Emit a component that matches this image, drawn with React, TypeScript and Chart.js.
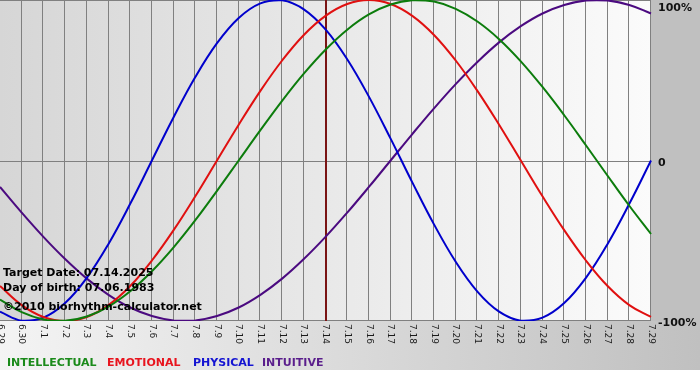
import React, { useEffect, useRef } from "react";
import { Chart, registerables } from "chart.js";

Chart.register(...registerables);

const dayLabels = [
  "6.29", "6.30", "7.1", "7.2", "7.3", "7.4", "7.5", "7.6", "7.7", "7.8", "7.9",
  "7.10", "7.11", "7.12", "7.13", "7.14", "7.15", "7.16", "7.17", "7.18", "7.19",
  "7.20", "7.21", "7.22", "7.23", "7.24", "7.25", "7.26", "7.27", "7.28", "7.29",
];

const intellectual = [
  -0.866, -0.945, -0.99, -0.999, -0.972, -0.91, -0.815, -0.69, -0.541, -0.372, -0.189,
  0, 0.189, 0.372, 0.541, 0.69, 0.815, 0.91, 0.972, 0.999, 0.99,
  0.945, 0.866, 0.756, 0.618, 0.458, 0.282, 0.095, -0.095, -0.282, -0.458,
];

const emotional = [
  -0.782, -0.901, -0.975, -1, -0.975, -0.901, -0.782, -0.623, -0.434, -0.223, 0,
  0.223, 0.434, 0.623, 0.782, 0.901, 0.975, 1, 0.975, 0.901, 0.782,
  0.623, 0.434, 0.223, 0, -0.223, -0.434, -0.623, -0.782, -0.901, -0.975,
];

const physical = [
  -0.942, -0.998, -0.979, -0.888, -0.731, -0.52, -0.27, 0, 0.27, 0.52, 0.731,
  0.888, 0.979, 0.998, 0.942, 0.817, 0.631, 0.398, 0.136, -0.136, -0.398,
  -0.631, -0.817, -0.942, -0.998, -0.979, -0.888, -0.731, -0.52, -0.27, 0,
];

const intuitive = [
  -0.165, -0.325, -0.476, -0.614, -0.736, -0.837, -0.916, -0.969, -0.997, -0.997, -0.969,
  -0.916, -0.837, -0.736, -0.614, -0.476, -0.325, -0.165, 0, 0.165, 0.325,
  0.476, 0.614, 0.736, 0.837, 0.916, 0.969, 0.997, 0.997, 0.969, 0.916,
];

const seriesNames = ["INTELLECTUAL", "EMOTIONAL", "PHYSICAL", "INTUITIVE"];
const seriesColors = ["#0c7c0c", "#e01010", "#0000cc", "#4b0a80"];
const legendColors = ["#1a8a1a", "#e8141e", "#1414d2", "#5a1e8c"];

const yTickValues = [1, 0, -1];
const yTickLabels = ["100%", "0", "-100%"];

const targetDayIndex = 15;
const infoLines = [
  "Target Date: 07.14.2025",
  "Day of birth: 07.06.1983",
  "\u00a92010 biorhythm-calculator.net",
];

export default function App() {
  const ref = useRef<HTMLCanvasElement>(null);

  useEffect(() => {
    const canvas = ref.current;
    if (!canvas) return;

    const decor = {
      id: "decor",
      beforeDraw(chart: any) {
        const { ctx, chartArea: a, width, height } = chart;
        ctx.save();
        ctx.fillStyle = "#ffffff";
        ctx.fillRect(0, 0, width, height);
        // bottom band
        const gb = ctx.createLinearGradient(0, 0, width, 0);
        gb.addColorStop(0, "#f4f4f4");
        gb.addColorStop(1, "#c0c0c0");
        ctx.fillStyle = gb;
        ctx.fillRect(0, a.bottom, width, 370 - a.bottom);
        // right panel
        ctx.fillStyle = "#c0c0c0";
        ctx.fillRect(a.right, 0, width - a.right, a.bottom);
        // plot area
        const gp = ctx.createLinearGradient(a.left, 0, a.right, 0);
        gp.addColorStop(0, "#d6d6d6");
        gp.addColorStop(1, "#fbfbfb");
        ctx.fillStyle = gp;
        ctx.fillRect(a.left, a.top, a.right - a.left, a.bottom - a.top);
        ctx.restore();
      },
      beforeDatasetsDraw(chart: any) {
        const { ctx, chartArea: a, scales } = chart;
        const xs = scales.x;
        const ys = scales.y;
        ctx.save();
        ctx.strokeStyle = "#808080";
        ctx.lineWidth = 1;
        ctx.beginPath();
        for (let i = 0; i < dayLabels.length; i++) {
          const x = Math.round(xs.getPixelForValue(i)) - 0.5;
          ctx.moveTo(x, a.top);
          ctx.lineTo(x, a.bottom);
        }
        for (const v of yTickValues) {
          const y = Math.round(ys.getPixelForValue(v)) + 0.5;
          ctx.moveTo(a.left, Math.min(Math.max(y, 0.5), a.bottom - 0.5));
          ctx.lineTo(a.right, Math.min(Math.max(y, 0.5), a.bottom - 0.5));
        }
        ctx.stroke();
        // target date line
        const tx = Math.round(xs.getPixelForValue(targetDayIndex));
        ctx.fillStyle = "#7a1414";
        ctx.fillRect(tx - 1, a.top, 2, a.bottom - a.top);
        ctx.restore();
      },
      afterDatasetsDraw(chart: any) {
        const { ctx } = chart;
        ctx.save();
        ctx.fillStyle = "#000000";
        ctx.font = "bold 11px 'DejaVu Sans'";
        ctx.textAlign = "left";
        ctx.textBaseline = "alphabetic";
        const baselines = [276, 291, 310];
        infoLines.forEach((t, i) => ctx.fillText(t, 3, baselines[i]));
        ctx.restore();
      },
      afterDraw(chart: any) {
        const { ctx, chartArea: a, scales } = chart;
        const xs = scales.x;
        const ys = scales.y;
        ctx.save();
        // x tick labels, rotated clockwise
        ctx.fillStyle = "#1a1a1a";
        ctx.font = "9px 'DejaVu Sans'";
        ctx.textAlign = "left";
        ctx.textBaseline = "middle";
        dayLabels.forEach((lab, i) => {
          const x = xs.getPixelForValue(i);
          ctx.save();
          ctx.translate(x, a.bottom + 3);
          ctx.rotate(Math.PI / 2);
          ctx.fillText(lab, 0, 0);
          ctx.restore();
        });
        // y labels on right
        ctx.fillStyle = "#111111";
        ctx.font = "bold 11px 'DejaVu Sans'";
        ctx.textBaseline = "alphabetic";
        yTickValues.forEach((v, i) => {
          const y = ys.getPixelForValue(v);
          const base = v === 1 ? y + 11 : y + 5;
          ctx.fillText(yTickLabels[i], a.right + 7, base);
        });
        // legend
        const legendX = [7, 107, 193, 262];
        ctx.font = "bold 11px 'DejaVu Sans'";
        seriesNames.forEach((n, i) => {
          ctx.fillStyle = legendColors[i];
          ctx.fillText(n, legendX[i], 366);
        });
        ctx.restore();
      },
    };

    const mk = (label: string, data: number[], color: string) => ({
      label,
      data,
      borderColor: color,
      backgroundColor: color,
      borderWidth: 2,
      pointRadius: 0,
      tension: 0.4,
      fill: false,
    });

    const chart = new Chart(canvas, {
      type: "line",
      data: {
        labels: dayLabels,
        datasets: [
          mk(seriesNames[0], intellectual, seriesColors[0]),
          mk(seriesNames[1], emotional, seriesColors[1]),
          mk(seriesNames[2], physical, seriesColors[2]),
          mk(seriesNames[3], intuitive, seriesColors[3]),
        ],
      },
      options: {
        responsive: false,
        animation: false,
        devicePixelRatio: 1,
        layout: { padding: { left: 0, top: 0, right: 49, bottom: 59 } },
        plugins: { legend: { display: false }, tooltip: { enabled: false } },
        scales: {
          x: { display: false, offset: false },
          y: { display: false, min: -1, max: 1 },
        },
      },
      plugins: [decor],
    });

    return () => chart.destroy();
  }, []);

  return (
    <div style={{ position: "absolute", left: 0, top: 0, width: 700, height: 380 }}>
      <canvas ref={ref} width={700} height={380} style={{ display: "block", width: 700, height: 380 }} />
    </div>
  );
}
